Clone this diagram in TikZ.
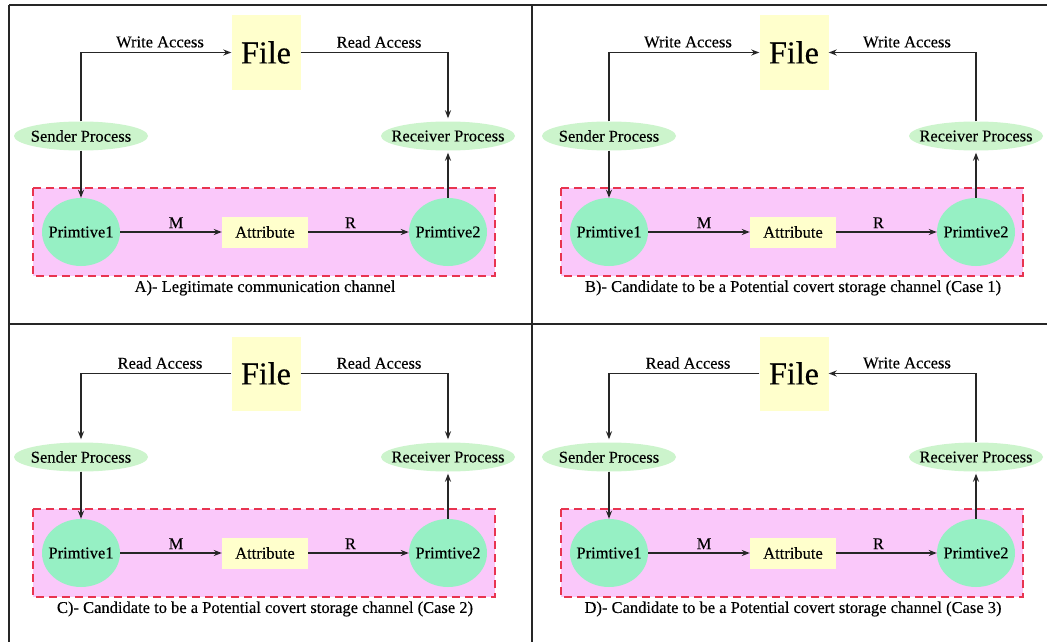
\documentclass[tikz,border=0pt]{standalone}
\usepackage{fontspec}
\setmainfont{Liberation Serif}
\newfontfamily\tnrfont[FakeBold=0.3]{Liberation Serif}
\usetikzlibrary{shapes.geometric,arrows.meta}
\definecolor{fileY}{RGB}{255,255,204}
\definecolor{procG}{RGB}{204,244,204}
\definecolor{primG}{RGB}{150,240,196}
\definecolor{pinkBG}{RGB}{250,200,250}
\definecolor{dashR}{RGB}{232,52,80}
\tikzset{
  lbl/.style={font=\tnrfont\fontsize{16.5}{19}\selectfont, inner sep=1pt},
  filebox/.style={rectangle, fill=fileY, minimum width=69pt, minimum height=74pt, inner sep=0pt, font=\tnrfont\fontsize{32}{36}\selectfont},
  proc/.style={ellipse, fill=procG, minimum width=134pt, minimum height=29pt, inner sep=0pt, font=\tnrfont\fontsize{16.5}{19}\selectfont},
  prim/.style={ellipse, fill=primG, minimum width=78pt, minimum height=68pt, inner sep=0pt, font=\tnrfont\fontsize{16.5}{19}\selectfont},
  attrbox/.style={rectangle, fill=fileY, minimum width=86pt, minimum height=31pt, inner sep=0pt, font=\tnrfont\fontsize{16.5}{19}\selectfont},
  chan/.style={fill=pinkBG, draw=dashR, line width=2pt, dash pattern=on 8pt off 5pt},
  arr/.style={line width=1.7pt, draw=black!85, -{Stealth[length=8pt,width=6pt]}},
  frame/.style={line width=2.2pt, draw=black!85}
}
% #1 prefix, #2 xoff, #3 yoff, #4 left label, #5 right label, #6 left dir (0 to file, 1 from file), #7 right dir, #8 caption
\newcommand\cpanel[8]{%
\begin{scope}[shift={(#2,#3)}]
  \draw[chan] (33,188) rectangle (495,276);
  \node[filebox] (#1F) at (266,52.5) {File};
  \node[proc] (#1S) at (81,136) {\makebox[0pt]{Sender Process}};
  \node[proc] (#1R) at (448,136) {\makebox[0pt]{Receiver Process}};
  \node[prim] (#1P) at (81,232) {\makebox[0pt]{Primtive1}};
  \node[prim] (#1Q) at (448,232) {\makebox[0pt]{Primtive2}};
  \node[attrbox] (#1A) at (265,232) {Attribute};
  \node[lbl] (#1LL) at (160,42) {#4};
  \node[lbl] (#1RL) at (379,42) {#5};
  \node[lbl] (#1C) at (265,288) {#8};
  \ifnum#6=0
    \draw[arr] (#1S.north) |- (#1F.west);
  \else
    \draw[arr, shorten >=3pt] (#1F.west) -| (#1S.north);
  \fi
  \ifnum#7=0
    \draw[arr] (#1R.north) |- (#1F.east);
  \else
    \draw[arr, shorten >=3pt] (#1F.east) -| (#1R.north);
  \fi
  \draw[arr] (#1S.south) -- (#1P.north);
  \draw[arr, shorten >=2pt] (#1Q.north) -- (#1R.south);
  \draw[arr] (#1P.east) -- node[lbl, above=2pt, pos=0.55] (#1M) {M} (#1A.west);
  \draw[arr] (#1A.east) -- node[lbl, above=2pt, pos=0.42] (#1Rl) {R} (#1Q.west);
\end{scope}}
\begin{document}
\begin{tikzpicture}[x=1pt,y=-1pt]
\useasboundingbox (0,0) rectangle (1047,642);
\fill[white] (0,0) rectangle (1047,642);
\draw[frame] (9,5) -- (1047,5);
\draw[frame] (9,5) -- (9,642);
\draw[frame] (9,324) -- (1047,324);
\draw[frame] (532,5) -- (532,642);
\cpanel{a}{0}{0}{Write Access}{Read Access}{0}{1}{A)- Legitimate communication channel}
\cpanel{b}{528}{0}{Write Access}{Write Access}{0}{0}{B)- Candidate to be a Potential covert storage channel (Case 1)}
\cpanel{c}{0}{321}{Read Access}{Read Access}{1}{1}{C)- Candidate to be a Potential covert storage channel (Case 2)}
\cpanel{d}{528}{321}{Read Access}{Write Access}{1}{0}{D)- Candidate to be a Potential covert storage channel (Case 3)}
\end{tikzpicture}
\end{document}
